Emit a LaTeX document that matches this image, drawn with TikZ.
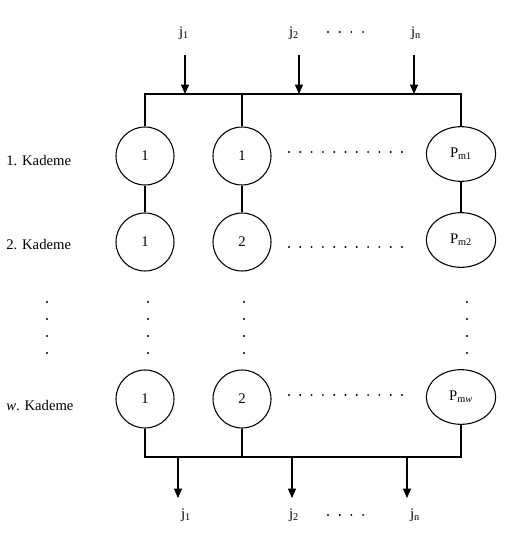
\documentclass[tikz,border=0pt]{standalone}
\usepackage{fontspec}
\setmainfont{Liberation Serif}
\usetikzlibrary{shapes.geometric, arrows.meta}
\tikzstyle{stage} = [circle, minimum size=43.5pt, inner sep=0pt, draw=black, line width=0.8pt]
\tikzstyle{laststage} = [ellipse, minimum width=52pt, minimum height=41pt, inner sep=0pt, draw=black, line width=0.8pt]
\tikzstyle{kademe} = [anchor=west, inner sep=0pt]
\tikzstyle{jlabel} = [inner sep=0pt]
\tikzstyle{wire} = [line width=0.8pt]
\tikzstyle{arrow} = [line width=0.8pt, -{Triangle[length=7pt,width=6pt]}]

\begin{document}
\begin{tikzpicture}[x=0.75pt, y=-0.75pt, font=\fontsize{11pt}{13pt}\selectfont]
		\useasboundingbox (0,0) rectangle (508,535);
		% girdiler
		\node (jin1) [jlabel] at (184,33) {j\textsubscript{1}};
		\node (jin2) [jlabel] at (294,33) {j\textsubscript{2}};
		\node (jinn) [jlabel] at (416,33) {j\textsubscript{n}};
		\coordinate (in1) at (185,55);
		\coordinate (in2) at (299,55);
		\coordinate (inn) at (414,55);
		\coordinate (busin) at (0,94);
		\coordinate (busout) at (0,457);
		\coordinate (out1) at (178,498);
		\coordinate (out2) at (292,498);
		\coordinate (outn) at (407,498);
		\node (jout1) [jlabel] at (186,515) {j\textsubscript{1}};
		\node (jout2) [jlabel] at (294,515) {j\textsubscript{2}};
		\node (joutn) [jlabel] at (415,515) {j\textsubscript{n}};
		
		% kademeler
		\node (k1) [kademe] at (6,161) {1. Kademe};
		\node (k2) [kademe] at (6,245) {2. Kademe};
		\node (kw) [kademe] at (6,406) {\textit{w}. Kademe};
		
		\node (s11) [stage] at (145,156) {1};
		\node (s12) [stage] at (242,156) {1};
		\node (s1m) [laststage] at (461,154) {P\textsubscript{m1}};
		\node (s21) [stage] at (145,242) {1};
		\node (s22) [stage] at (242,242) {2};
		\node (s2m) [laststage] at (461,240) {P\textsubscript{m2}};
		\node (sw1) [stage] at (145,399) {1};
		\node (sw2) [stage] at (242,399) {2};
		\node (swm) [laststage] at (461,397) {P\textsubscript{m\textit{w}}};
		
		\draw [wire] (s11) -- (s11 |- busin) -- (s1m |- busin) -- (s1m);
		\draw [wire] (s12) -- (s12 |- busin);
		\draw [arrow] (in1) -- (in1 |- busin);
		\draw [arrow] (in2) -- (in2 |- busin);
		\draw [arrow] (inn) -- (inn |- busin);
		\draw [wire] (s11) -- (s21);
		\draw [wire] (s12) -- (s22);
		\draw [wire] (s1m) -- (s2m);
		\draw [wire] (sw1) -- (sw1 |- busout) -- (swm |- busout) -- (swm);
		\draw [wire] (sw2) -- (sw2 |- busout);
		\draw [arrow] (out1 |- busout) -- (out1);
		\draw [arrow] (out2 |- busout) -- (out2);
		\draw [arrow] (outn |- busout) -- (outn);
		
		% noktalar
		\foreach \y in {152,247,395}
			\foreach \i in {0,...,10}
				\fill ({289+11.3*\i},\y) circle (0.8pt);
		\foreach \x in {47,148,244,467}
			\foreach \y in {302,319,336,353}
				\fill (\x,\y) circle (0.8pt);
		\foreach \y in {32,515}
			\foreach \i in {0,...,3}
				\fill ({328+11.7*\i},\y) circle (0.8pt);
	\end{tikzpicture}
\end{document}
